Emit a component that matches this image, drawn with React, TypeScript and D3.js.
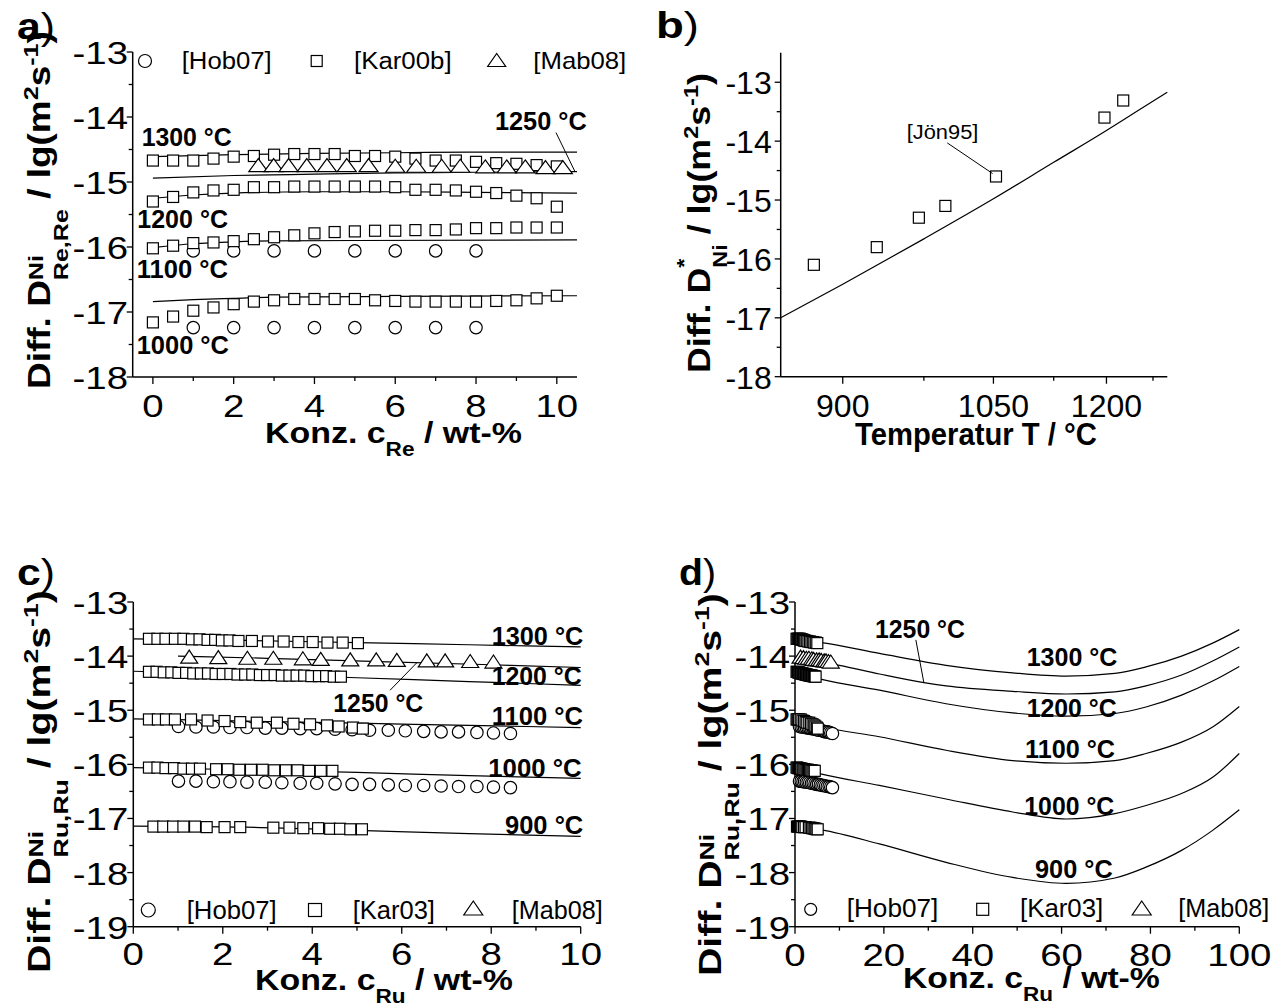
import React, { useLayoutEffect, useRef, useState } from "react";
import * as d3 from "d3";

const FONT = "'Liberation Sans', Arial, Helvetica, sans-serif";

// ---------------- Panel a (Re) ----------------
const aConc = [0,0.5,1,1.5,2,2.5,3,3.5,4,4.5,5,5.5,6,6.5,7,7.5,8,8.5,9,9.5,10];
const aKar1300 = [-14.67,-14.67,-14.67,-14.64,-14.61,-14.60,-14.58,-14.57,-14.57,-14.57,-14.60,-14.60,-14.61,-14.64,-14.67,-14.67,-14.69,-14.71,-14.72,-14.74,-14.76];
const aKar1200 = [-15.30,-15.23,-15.16,-15.13,-15.12,-15.08,-15.08,-15.07,-15.07,-15.07,-15.07,-15.07,-15.08,-15.12,-15.12,-15.13,-15.15,-15.17,-15.21,-15.25,-15.38];
const aKar1100 = [-16.02,-15.98,-15.94,-15.93,-15.91,-15.88,-15.85,-15.82,-15.79,-15.77,-15.76,-15.75,-15.75,-15.74,-15.74,-15.73,-15.71,-15.71,-15.70,-15.70,-15.70];
const aKar1000 = [-17.16,-17.07,-16.98,-16.93,-16.88,-16.84,-16.82,-16.80,-16.80,-16.80,-16.80,-16.82,-16.83,-16.84,-16.84,-16.84,-16.84,-16.83,-16.82,-16.79,-16.75];
const aHobConc = [1,2,3,4,5,6,7,8];
const aHob1100 = [-16.06,-16.06,-16.06,-16.06,-16.06,-16.06,-16.06,-16.06];
const aHob1000 = [-17.24,-17.24,-17.24,-17.24,-17.24,-17.24,-17.24,-17.24];
const aMabConc = [2.61,2.99,3.36,3.81,4.31,4.80,5.34,6.00,6.52,7.15,7.61,8.23,8.76,9.22,9.72,10.15];
const aMab1250 = [-14.74,-14.74,-14.74,-14.74,-14.74,-14.74,-14.74,-14.75,-14.75,-14.75,-14.75,-14.76,-14.76,-14.76,-14.77,-14.77];
const aFit1300X = [0,2,4,6,8,10.5];
const aFit1300 = [-14.61,-14.58,-14.56,-14.55,-14.54,-14.54];
const aFit1250X = [0,2,4,6,8,10.5];
const aFit1250 = [-14.94,-14.90,-14.88,-14.86,-14.85,-14.84];
const aFit1200X = [0,1,2,4,6,8,10.5];
const aFit1200 = [-15.25,-15.20,-15.17,-15.15,-15.15,-15.16,-15.17];
const aFit1100X = [0,1,2,3,5,10.5];
const aFit1100 = [-16.01,-15.95,-15.92,-15.905,-15.90,-15.89];
const aFit1000X = [0,1,2,3,6,10.5];
const aFit1000 = [-16.84,-16.81,-16.79,-16.77,-16.76,-16.75];
const aXTicks = [0,2,4,6,8,10];
const aXMinor = [1,3,5,7,9];
const aYTicks = [-18,-17,-16,-15,-14,-13];
const aYMinor = [-17.5,-16.5,-15.5,-14.5,-13.5];

// ---------------- Panel b (tracer diffusion) ----------------
const bTemp = [876,930,970,997,1053,1197,1226];
const bJon95 = [-16.10,-15.80,-15.30,-15.10,-14.60,-13.60,-13.31];
const bFitTemp = [850,900,975,1050,1125,1200,1250,1300];
const bFit = [-17.00,-16.43,-15.66,-14.98,-14.36,-13.82,-13.48,-13.17];
const bXTicks = [900,1050,1200];
const bXMinor = [975,1125,1275];
const bYTicks = [-18,-17,-16,-15,-14,-13];
const bYMinor = [-17.5,-16.5,-15.5,-14.5,-13.5];

// ---------------- Panel c / d (Ru) ----------------
const cKar1300X = [0.35,0.54,0.72,0.93,1.12,1.31,1.48,1.66,1.83,1.98,2.15,2.35,2.65,3.01,3.36,3.69,4.01,4.34,4.68,5.02];
const cKar1300 = [-13.68,-13.68,-13.68,-13.68,-13.68,-13.69,-13.69,-13.70,-13.70,-13.71,-13.71,-13.72,-13.72,-13.73,-13.73,-13.74,-13.74,-13.75,-13.75,-13.76];
const cMab1250X = [1.25,1.90,2.55,3.13,3.79,4.19,4.85,5.43,5.89,6.56,6.97,7.53,8.05];
const cMab1250 = [-14.01,-14.02,-14.03,-14.03,-14.04,-14.05,-14.06,-14.06,-14.07,-14.08,-14.08,-14.09,-14.10];
const cKar1200X = [0.35,0.52,0.68,0.85,1.01,1.18,1.34,1.51,1.67,1.84,2.00,2.17,2.33,2.50,2.66,2.83,2.99,3.16,3.32,3.49,3.65,3.82,3.98,4.15,4.31,4.48,4.64];
const cKar1200 = [-14.29,-14.29,-14.30,-14.30,-14.31,-14.31,-14.32,-14.32,-14.32,-14.33,-14.33,-14.33,-14.34,-14.34,-14.34,-14.35,-14.35,-14.35,-14.36,-14.36,-14.36,-14.36,-14.37,-14.37,-14.37,-14.38,-14.38];
const cKar1100X = [0.35,0.55,0.73,0.93,1.29,1.66,2.04,2.39,2.76,3.21,3.58,3.95,4.33,4.59,4.91,5.13];
const cKar1100 = [-15.17,-15.17,-15.17,-15.17,-15.17,-15.19,-15.20,-15.22,-15.23,-15.23,-15.25,-15.26,-15.28,-15.30,-15.32,-15.34];
const cHob1100X = [1.01,1.40,1.79,2.16,2.54,2.95,3.32,3.73,4.10,4.51,4.89,5.28,5.70,6.08,6.49,6.88,7.27,7.68,8.05,8.43];
const cHob1100 = [-15.30,-15.31,-15.31,-15.32,-15.32,-15.33,-15.33,-15.34,-15.34,-15.35,-15.36,-15.37,-15.37,-15.38,-15.39,-15.40,-15.40,-15.41,-15.42,-15.43];
const cKar1000X = [0.35,0.54,0.72,0.91,1.12,1.31,1.49,1.85,2.11,2.37,2.63,2.89,3.15,3.41,3.67,3.93,4.19,4.45];
const cKar1000 = [-16.06,-16.06,-16.07,-16.07,-16.08,-16.08,-16.08,-16.09,-16.09,-16.10,-16.10,-16.10,-16.11,-16.11,-16.11,-16.12,-16.12,-16.12];
const cHob1000X = [1.01,1.40,1.79,2.16,2.54,2.95,3.32,3.73,4.10,4.51,4.89,5.28,5.70,6.08,6.49,6.88,7.27,7.68,8.05,8.43];
const cHob1000 = [-16.31,-16.31,-16.32,-16.32,-16.33,-16.33,-16.34,-16.35,-16.35,-16.36,-16.37,-16.37,-16.38,-16.39,-16.39,-16.40,-16.41,-16.41,-16.42,-16.43];
const cKar900X = [0.45,0.67,0.89,1.12,1.38,1.64,2.04,2.39,3.13,3.49,3.80,4.13,4.40,4.62,4.85,5.11];
const cKar900 = [-17.15,-17.15,-17.15,-17.15,-17.15,-17.16,-17.16,-17.16,-17.17,-17.17,-17.18,-17.18,-17.19,-17.19,-17.20,-17.20];

const cFitX = [0,2.5,5,7.5,10];
const cFit1300 = [-13.68,-13.71,-13.75,-13.79,-13.83];
const cFit1250X = [1.0,3,5.5,8,10];
const cFit1250 = [-14.00,-14.04,-14.10,-14.16,-14.21];
const cFit1200 = [-14.28,-14.33,-14.40,-14.47,-14.54];
const cFit1100 = [-15.16,-15.20,-15.24,-15.28,-15.32];
const cFit1000 = [-16.06,-16.10,-16.15,-16.21,-16.26];
const cFit900 = [-17.14,-17.16,-17.22,-17.28,-17.33];
const cXTicks = [0,2,4,6,8,10];
const cXMinor = [1,3,5,7,9];
const cdYTicks = [-19,-18,-17,-16,-15,-14,-13];
const cdYMinor = [-18.5,-17.5,-16.5,-15.5,-14.5,-13.5];

const dFitX = [0,6,19,34,49,61,72,79,87,94,100];
const dFit1300 = [-13.70,-13.75,-13.95,-14.17,-14.31,-14.37,-14.32,-14.20,-14.00,-13.76,-13.51];
const dFit1250X = [0,10,19,29,34,49,61,72,79,87,94,100];
const dFit1250 = [-14.03,-14.17,-14.33,-14.49,-14.55,-14.65,-14.70,-14.66,-14.55,-14.35,-14.09,-13.83];
const dFit1200 = [-14.30,-14.43,-14.63,-14.88,-15.05,-15.11,-15.06,-14.94,-14.72,-14.46,-14.19];
const dFit1100 = [-15.15,-15.30,-15.49,-15.74,-15.93,-15.98,-15.93,-15.80,-15.59,-15.31,-14.93];
const dFit1000 = [-16.06,-16.18,-16.39,-16.64,-16.88,-17.01,-16.91,-16.76,-16.54,-16.24,-15.80];
const dFit900 = [-17.14,-17.21,-17.47,-17.81,-18.09,-18.20,-18.10,-17.90,-17.59,-17.22,-16.84];
const dXTicks = [0,20,40,60,80,100];
const dXMinor = [10,30,50,70,90];

// ---------------- scales ----------------
const xA = d3.scaleLinear().domain([-0.5, 10.5]).range([132.7, 577]);
const yA = d3.scaleLinear().domain([-18, -13]).range([377, 52]);
const xB = d3.scalePow().exponent(-1).domain([850, 1300]).range([780.7, 1167.3]);
const yB = d3.scaleLinear().domain([-18, -12.5]).range([376.7, 52.8]);
const xC = d3.scaleLinear().domain([0, 10]).range([133.3, 580.7]);
const yC = d3.scaleLinear().domain([-19, -13]).range([926.7, 602]);
const xD = d3.scaleLinear().domain([0, 100]).range([795, 1239.3]);
const yD = yC;

function FitText({ x, y, rotate = 0, length, sx = 1, anchor = "start", size, bold = false, children }: any) {
  const ref = useRef<SVGTextElement>(null);
  const [s, setS] = useState(sx);
  useLayoutEffect(() => {
    if (length && ref.current) {
      const w = ref.current.getBBox().width;
      if (w > 0) setS(length / w);
    }
  }, [length]);
  return (
    <g transform={`translate(${x},${y})${rotate ? ` rotate(${rotate})` : ""}`}>
      <g transform={`scale(${s},1)`}>
        <text ref={ref} textAnchor={anchor} fontSize={size} fontWeight={bold ? "bold" : "normal"} style={{ whiteSpace: "pre" }}>
          {children}
        </text>
      </g>
    </g>
  );
}

const Sq = ({ cx, cy, s = 11 }: any) => (
  <rect x={cx - s / 2} y={cy - s / 2} width={s} height={s} fill="white" stroke="black" strokeWidth={1.2} />
);
const Ci = ({ cx, cy, r = 6.2 }: any) => <circle cx={cx} cy={cy} r={r} fill="white" stroke="black" strokeWidth={1.2} />;
const Tri = ({ cx, cy, w = 17, h = 13 }: any) => (
  <path d={`M${cx},${cy - h / 2}L${cx + w / 2},${cy + h / 2}L${cx - w / 2},${cy + h / 2}Z`} fill="white" stroke="black" strokeWidth={1.2} strokeLinejoin="miter" />
);

function Curve({ xs, ys, x, y }: any) {
  const pts = xs.map((v: number, i: number) => [x(v), y(ys[i])] as [number, number]);
  const d = d3.line().curve(d3.curveMonotoneX)(pts) || "";
  return <path d={d} fill="none" stroke="black" strokeWidth={1.2} />;
}

function Axes({ x, y, xTicks, xMinor, yTicks, yMinor, xLabelY, yLabelX, sx, xFmt }: any) {
  const [x0, x1] = x.range();
  const [y0, y1] = y.range(); // y0 bottom
  return (
    <g>
      <line x1={x0} x2={x0} y1={y1} y2={y0} stroke="black" strokeWidth={1.5} />
      <line x1={x0} x2={x1} y1={y0} y2={y0} stroke="black" strokeWidth={1.5} />
      {yTicks.map((t: number) => (
        <line key={"ym" + t} x1={x0 - 6} x2={x0} y1={y(t)} y2={y(t)} stroke="black" strokeWidth={1.3} />
      ))}
      {yMinor.map((t: number) => (
        <line key={"yn" + t} x1={x0 - 4} x2={x0} y1={y(t)} y2={y(t)} stroke="black" strokeWidth={1.3} />
      ))}
      {xTicks.map((t: number) => (
        <line key={"xm" + t} x1={x(t)} x2={x(t)} y1={y0} y2={y0 + 7} stroke="black" strokeWidth={1.3} />
      ))}
      {xMinor.map((t: number) => (
        <line key={"xn" + t} x1={x(t)} x2={x(t)} y1={y0} y2={y0 + 4} stroke="black" strokeWidth={1.3} />
      ))}
      {yTicks.map((t: number) => (
        <FitText key={"yl" + t} x={yLabelX} y={y(t) + 12} anchor="end" size={32} sx={sx}>
          {`${t}`}
        </FitText>
      ))}
      {xTicks.map((t: number) => (
        <FitText key={"xl" + t} x={x(t)} y={xLabelY} anchor="middle" size={32} sx={sx}>
          {xFmt ? xFmt(t) : `${t}`}
        </FitText>
      ))}
    </g>
  );
}

function YTitle({ x, y, length, size = 31, small = 21, sup, supW, supDy, sub, subDy }: any) {
  return (
    <FitText x={x} y={y} rotate={-90} length={length} size={size} bold>
      <tspan>Diff. D</tspan>
      <tspan fontSize={small} dy={supDy}>{sup}</tspan>
      <tspan fontSize={small} dx={-supW} dy={subDy - supDy}>{sub}</tspan>
      <tspan fontSize={size} dy={-subDy}>{" / lg(m"}</tspan>
      <tspan fontSize={small} dy={-12}>2</tspan>
      <tspan fontSize={size} dy={12}>s</tspan>
      <tspan fontSize={small} dy={-12}>-1</tspan>
      <tspan fontSize={size} dy={12}>)</tspan>
    </FitText>
  );
}

function XTitle({ x, y, length, sub }: any) {
  return (
    <FitText x={x} y={y} length={length} size={30} bold>
      <tspan>Konz. c</tspan>
      <tspan fontSize={20} dy={13}>{sub}</tspan>
      <tspan fontSize={30} dy={-13}>{" / wt-%"}</tspan>
    </FitText>
  );
}

const PanelLabel = ({ x, y, length, letter }: any) => (
  <FitText x={x} y={y} length={length} size={37}>
    <tspan fontWeight="bold">{letter}</tspan>
    <tspan>)</tspan>
  </FitText>
);

const TLabel = ({ x, y, length, children }: any) => (
  <FitText x={x} y={y} length={length} size={26.5} bold>
    {children}
  </FitText>
);

function Points({ xs, ys, x, y, M, ...rest }: any) {
  return <g>{xs.map((v: number, i: number) => <M key={i} cx={x(v)} cy={y(ys[i])} {...rest} />)}</g>;
}

function PanelA() {
  return (
    <g>
      <Axes x={xA} y={yA} xTicks={aXTicks} xMinor={aXMinor} yTicks={aYTicks} yMinor={aYMinor} xLabelY={417} yLabelX={128} sx={1.2} />
      <Curve xs={aFit1300X} ys={aFit1300} x={xA} y={yA} />
      <Curve xs={aFit1250X} ys={aFit1250} x={xA} y={yA} />
      <Curve xs={aFit1200X} ys={aFit1200} x={xA} y={yA} />
      <Curve xs={aFit1100X} ys={aFit1100} x={xA} y={yA} />
      <Curve xs={aFit1000X} ys={aFit1000} x={xA} y={yA} />
      <Points xs={aHobConc} ys={aHob1100} x={xA} y={yA} M={Ci} />
      <Points xs={aHobConc} ys={aHob1000} x={xA} y={yA} M={Ci} />
      <Points xs={aConc} ys={aKar1300} x={xA} y={yA} M={Sq} />
      <Points xs={aConc} ys={aKar1200} x={xA} y={yA} M={Sq} />
      <Points xs={aConc} ys={aKar1100} x={xA} y={yA} M={Sq} />
      <Points xs={aConc} ys={aKar1000} x={xA} y={yA} M={Sq} />
      <Points xs={aMabConc} ys={aMab1250} x={xA} y={yA} M={Tri} w={19} h={13} />
      <line x1={xA(9.98)} y1={yA(-14.24)} x2={xA(10.45)} y2={yA(-14.84)} stroke="black" strokeWidth={1} />
      <TLabel x={141.7} y={146} length={90}>1300 °C</TLabel>
      <TLabel x={495} y={130} length={91.7}>1250 °C</TLabel>
      <TLabel x={137.3} y={227.7} length={90.7}>1200 °C</TLabel>
      <TLabel x={136.7} y={278.3} length={91.3}>1100 °C</TLabel>
      <TLabel x={136.7} y={354} length={92.3}>1000 °C</TLabel>
      <Ci cx={145} cy={61} r={6.5} />
      <FitText x={181.7} y={69} length={90} size={24}>[Hob07]</FitText>
      <Sq cx={316.7} cy={61} s={11} />
      <FitText x={354} y={69} length={97.7} size={24}>[Kar00b]</FitText>
      <Tri cx={496.7} cy={60} w={18} h={13} />
      <FitText x={533.3} y={69} length={93} size={24}>[Mab08]</FitText>
      <YTitle x={50} y={389} length={358} sup="Ni" supW={21} supDy={-7} sub="Re,Re" subDy={18} />
      <XTitle x={265} y={443} length={257} sub="Re" />
      <PanelLabel x={17} y={39} length={38} letter="a" />
    </g>
  );
}

function PanelB() {
  return (
    <g>
      <Axes x={xB} y={yB} xTicks={bXTicks} xMinor={bXMinor} yTicks={bYTicks} yMinor={bYMinor} xLabelY={416.5} yLabelX={771.7} sx={1} />
      <Curve xs={bFitTemp} ys={bFit} x={xB} y={yB} />
      <Points xs={bTemp} ys={bJon95} x={xB} y={yB} M={Sq} s={11} />
      <line x1={xB(999)} y1={yB(-14.03)} x2={xB(1049)} y2={yB(-14.55)} stroke="black" strokeWidth={1} />
      <FitText x={906.7} y={139} length={71.7} size={21}>[Jön95]</FitText>
      <YTitle x={710} y={373} length={300} size={32} sup="*" supW={8.2} supDy={-19} sub="Ni" subDy={17} />
      <FitText x={855} y={445} length={242} size={32} bold>Temperatur T / °C</FitText>
      <PanelLabel x={656} y={38} length={43} letter="b" />
    </g>
  );
}

function RuMarkers({ x, y }: any) {
  return (
    <g>
      <Points xs={cHob1100X} ys={cHob1100} x={x} y={y} M={Ci} />
      <Points xs={cHob1000X} ys={cHob1000} x={x} y={y} M={Ci} />
      <Points xs={cKar1300X} ys={cKar1300} x={x} y={y} M={Sq} />
      <Points xs={cKar1200X} ys={cKar1200} x={x} y={y} M={Sq} />
      <Points xs={cKar1100X} ys={cKar1100} x={x} y={y} M={Sq} />
      <Points xs={cKar1000X} ys={cKar1000} x={x} y={y} M={Sq} />
      <Points xs={cKar900X} ys={cKar900} x={x} y={y} M={Sq} />
      <Points xs={cMab1250X} ys={cMab1250} x={x} y={y} M={Tri} w={17} h={13} />
    </g>
  );
}

function PanelC() {
  return (
    <g>
      <Axes x={xC} y={yC} xTicks={cXTicks} xMinor={cXMinor} yTicks={cdYTicks} yMinor={cdYMinor} xLabelY={965} yLabelX={128.3} sx={1.2} />
      <Curve xs={cFitX} ys={cFit1300} x={xC} y={yC} />
      <Curve xs={cFit1250X} ys={cFit1250} x={xC} y={yC} />
      <Curve xs={cFitX} ys={cFit1200} x={xC} y={yC} />
      <Curve xs={cFitX} ys={cFit1100} x={xC} y={yC} />
      <Curve xs={cFitX} ys={cFit1000} x={xC} y={yC} />
      <Curve xs={cFitX} ys={cFit900} x={xC} y={yC} />
      <RuMarkers x={xC} y={yC} />
      <line x1={xC(5.74)} y1={yC(-14.63)} x2={xC(6.34)} y2={yC(-14.12)} stroke="black" strokeWidth={1} />
      <TLabel x={491.7} y={645} length={91.6}>1300 °C</TLabel>
      <TLabel x={491.7} y={685} length={90}>1200 °C</TLabel>
      <TLabel x={491.7} y={725} length={91.3}>1100 °C</TLabel>
      <TLabel x={488.3} y={776.7} length={93.4}>1000 °C</TLabel>
      <TLabel x={505} y={834} length={78.3}>900 °C</TLabel>
      <TLabel x={333.3} y={711.7} length={90}>1250 °C</TLabel>
      <Ci cx={148.3} cy={910} r={7} />
      <FitText x={186.7} y={919} length={90} size={25}>[Hob07]</FitText>
      <Sq cx={315} cy={910} s={13} />
      <FitText x={352.7} y={919} length={82.3} size={25}>[Kar03]</FitText>
      <Tri cx={473.3} cy={908} w={19} h={14} />
      <FitText x={511.7} y={919} length={91} size={25}>[Mab08]</FitText>
      <YTitle x={50} y={973} length={383} sup="Ni" supW={21} supDy={-7} sub="Ru,Ru" subDy={18} />
      <XTitle x={255} y={990} length={258} sub="Ru" />
      <PanelLabel x={17} y={585} length={38} letter="c" />
    </g>
  );
}

function PanelD() {
  return (
    <g>
      <Axes x={xD} y={yD} xTicks={dXTicks} xMinor={dXMinor} yTicks={cdYTicks} yMinor={cdYMinor} xLabelY={966} yLabelX={790} sx={1.2} />
      <Curve xs={dFitX} ys={dFit1300} x={xD} y={yD} />
      <Curve xs={dFit1250X} ys={dFit1250} x={xD} y={yD} />
      <Curve xs={dFitX} ys={dFit1200} x={xD} y={yD} />
      <Curve xs={dFitX} ys={dFit1100} x={xD} y={yD} />
      <Curve xs={dFitX} ys={dFit1000} x={xD} y={yD} />
      <Curve xs={dFitX} ys={dFit900} x={xD} y={yD} />
      <RuMarkers x={xD} y={yD} />
      <line x1={xD(27.2)} y1={yD(-13.70)} x2={xD(29)} y2={yD(-14.49)} stroke="black" strokeWidth={1} />
      <TLabel x={875} y={637.7} length={90}>1250 °C</TLabel>
      <TLabel x={1026.7} y={666} length={90.6}>1300 °C</TLabel>
      <TLabel x={1026.7} y={716.7} length={90}>1200 °C</TLabel>
      <TLabel x={1025} y={757.7} length={90}>1100 °C</TLabel>
      <TLabel x={1024.3} y={815} length={90}>1000 °C</TLabel>
      <TLabel x={1035} y={877.7} length={77.7}>900 °C</TLabel>
      <Ci cx={810.7} cy={909.3} r={6} />
      <FitText x={846.7} y={917} length={91.7} size={25}>[Hob07]</FitText>
      <Sq cx={982.7} cy={909.3} s={12} />
      <FitText x={1020} y={917} length={83.3} size={25}>[Kar03]</FitText>
      <Tri cx={1141.7} cy={908} w={19} h={14} />
      <FitText x={1178.3} y={917} length={91} size={25}>[Mab08]</FitText>
      <YTitle x={721} y={976} length={383} sup="Ni" supW={21} supDy={-7} sub="Ru,Ru" subDy={18} />
      <XTitle x={903} y={988} length={257} sub="Ru" />
      <PanelLabel x={679} y={585} length={37} letter="d" />
    </g>
  );
}

export default function App() {
  return (
    <svg
      width={1284}
      height={1005}
      viewBox="0 0 1284 1005"
      style={{ position: "absolute", left: 0, top: 0, background: "white", fontFamily: FONT }}
    >
      <rect x={0} y={0} width={1284} height={1005} fill="white" />
      <PanelA />
      <PanelB />
      <PanelC />
      <PanelD />
    </svg>
  );
}
